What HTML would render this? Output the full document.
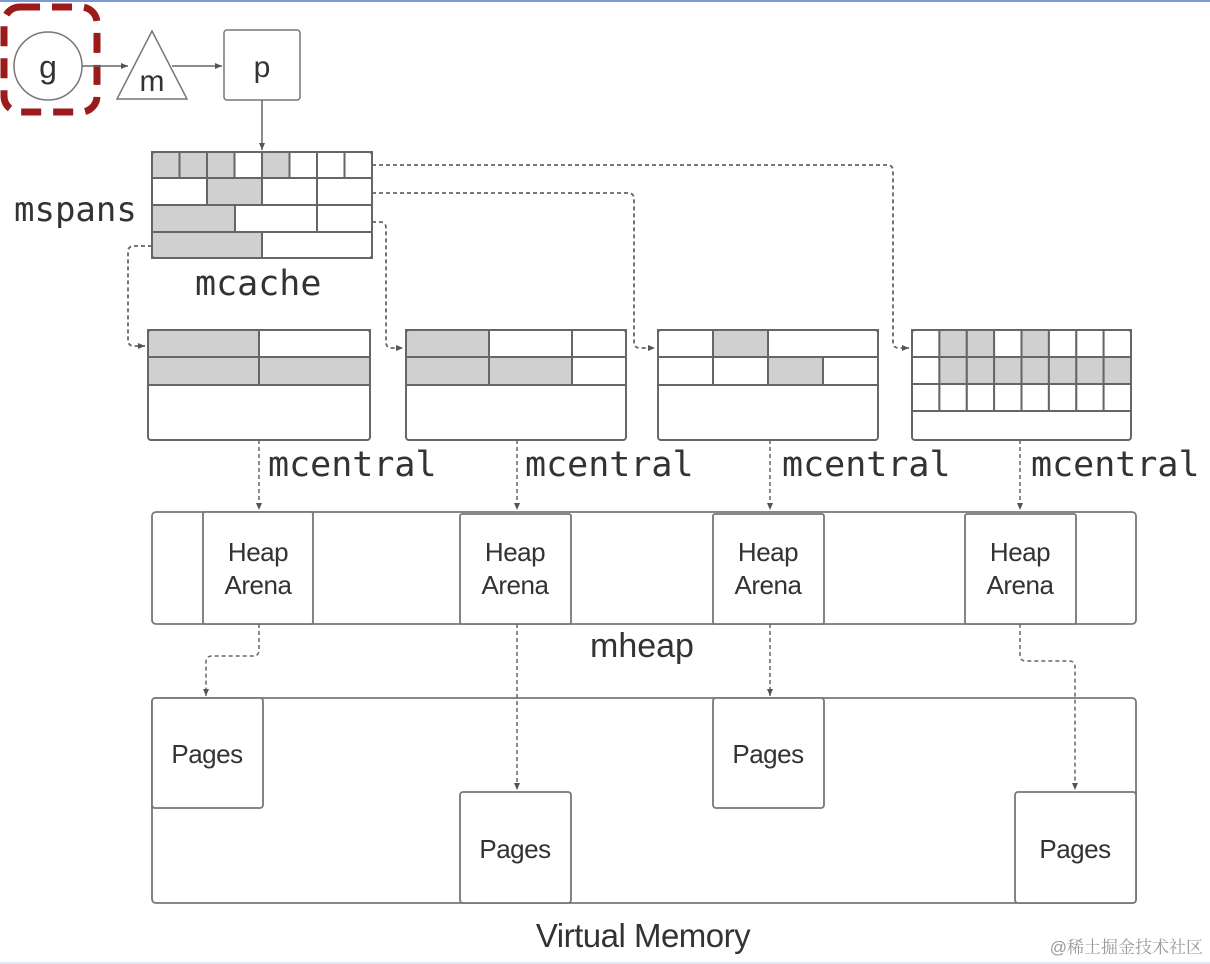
<!DOCTYPE html>
<html><head><meta charset="utf-8"><style>
html,body{margin:0;padding:0;background:#fff;}
svg{display:block;}
.mono{font-family:"DejaVu Sans Mono","Liberation Mono",monospace;fill:#333;}
.sans{font-family:"Liberation Sans",sans-serif;fill:#333;}
</style></head><body>
<svg width="1210" height="964" viewBox="0 0 1210 964" xmlns="http://www.w3.org/2000/svg">
<defs>
<marker id="ah" markerWidth="8" markerHeight="8" refX="7" refY="4" orient="auto" markerUnits="userSpaceOnUse"><path d="M0,1 L7,4 L0,7 z" fill="#555"/></marker>
</defs>
<rect x="0" y="0" width="1210" height="2" fill="#7b9ad6"/>
<rect x="0" y="962" width="1210" height="2" fill="#e6ebf3"/>

<!-- g m p -->
<rect x="4" y="7" width="93" height="105" rx="16" fill="none" stroke="#9b1b1b" stroke-width="7" stroke-dasharray="20,12"/>
<circle cx="48" cy="66" r="34" fill="#fff" stroke="#777" stroke-width="1.5"/>
<text x="48" y="78" class="sans" font-size="32" text-anchor="middle">g</text>
<line x1="82" y1="66" x2="128" y2="66" stroke="#666" stroke-width="1.5" marker-end="url(#ah)"/>
<polygon points="117,99 152,31 187,99" fill="#fff" stroke="#777" stroke-width="1.5"/>
<text x="152" y="91" class="sans" font-size="30" text-anchor="middle">m</text>
<line x1="172" y1="66" x2="222" y2="66" stroke="#666" stroke-width="1.5" marker-end="url(#ah)"/>
<rect x="224" y="30" width="76" height="70" rx="3" fill="#fff" stroke="#777" stroke-width="1.5"/>
<text x="262" y="77" class="sans" font-size="30" text-anchor="middle">p</text>
<line x1="262" y1="100" x2="262" y2="150" stroke="#666" stroke-width="1.5" marker-end="url(#ah)"/>

<!-- mcache -->
<g stroke="#666" stroke-width="2">
<rect x="152" y="152" width="27.5" height="26" fill="#d0d0d0"/>
<rect x="179.5" y="152" width="27.5" height="26" fill="#d0d0d0"/>
<rect x="207" y="152" width="27.5" height="26" fill="#d0d0d0"/>
<rect x="234.5" y="152" width="27.5" height="26" fill="#fff"/>
<rect x="262" y="152" width="27.5" height="26" fill="#d0d0d0"/>
<rect x="289.5" y="152" width="27.5" height="26" fill="#fff"/>
<rect x="317" y="152" width="27.5" height="26" fill="#fff"/>
<rect x="344.5" y="152" width="27.5" height="26" fill="#fff"/>
<rect x="152" y="178" width="55" height="27" fill="#fff"/>
<rect x="207" y="178" width="55" height="27" fill="#d0d0d0"/>
<rect x="262" y="178" width="55" height="27" fill="#fff"/>
<rect x="317" y="178" width="55" height="27" fill="#fff"/>
<rect x="152" y="205" width="83" height="27" fill="#d0d0d0"/>
<rect x="235" y="205" width="82" height="27" fill="#fff"/>
<rect x="317" y="205" width="55" height="27" fill="#fff"/>
<rect x="152" y="232" width="110" height="26" fill="#d0d0d0"/>
<rect x="262" y="232" width="110" height="26" fill="#fff"/>
</g>
<rect x="152" y="152" width="220" height="106" rx="3" fill="none" stroke="#666" stroke-width="2"/>
<text x="14" y="221" class="mono" font-size="34">mspans</text>
<text x="195" y="295" class="mono" font-size="35">mcache</text>

<!-- dashed connectors from mcache -->
<g fill="none" stroke="#666" stroke-width="1.8" stroke-dasharray="4,3">
<path d="M372,165 H887 Q893,165 893,171 V342 Q893,348 899,348 H909" marker-end="url(#ah)"/>
<path d="M372,193 H628 Q634,193 634,199 V342 Q634,348 640,348 H655" marker-end="url(#ah)"/>
<path d="M372,222 H380 Q386,222 386,228 V342 Q386,348 392,348 H403" marker-end="url(#ah)"/>
<path d="M152,246 H134 Q128,246 128,252 V340 Q128,346 134,346 H145" marker-end="url(#ah)"/>
</g>

<!-- mcentral 1 -->
<g stroke="#666" stroke-width="2">
<rect x="148" y="330" width="111" height="27" fill="#d0d0d0"/>
<rect x="259" y="330" width="111" height="27" fill="#fff"/>
<rect x="148" y="357" width="111" height="28" fill="#d0d0d0"/>
<rect x="259" y="357" width="111" height="28" fill="#d0d0d0"/>
</g>
<rect x="148" y="330" width="222" height="110" rx="3" fill="none" stroke="#666" stroke-width="2"/>
<!-- mcentral 2 -->
<g stroke="#666" stroke-width="2">
<rect x="406" y="330" width="83" height="27" fill="#d0d0d0"/>
<rect x="489" y="330" width="83" height="27" fill="#fff"/>
<rect x="572" y="330" width="54" height="27" fill="#fff"/>
<rect x="406" y="357" width="83" height="28" fill="#d0d0d0"/>
<rect x="489" y="357" width="83" height="28" fill="#d0d0d0"/>
<rect x="572" y="357" width="54" height="28" fill="#fff"/>
</g>
<rect x="406" y="330" width="220" height="110" rx="3" fill="none" stroke="#666" stroke-width="2"/>
<!-- mcentral 3 -->
<g stroke="#666" stroke-width="2">
<rect x="658" y="330" width="55" height="27" fill="#fff"/>
<rect x="713" y="330" width="55" height="27" fill="#d0d0d0"/>
<rect x="768" y="330" width="110" height="27" fill="#fff"/>
<rect x="658" y="357" width="55" height="28" fill="#fff"/>
<rect x="713" y="357" width="55" height="28" fill="#fff"/>
<rect x="768" y="357" width="55" height="28" fill="#d0d0d0"/>
<rect x="823" y="357" width="55" height="28" fill="#fff"/>
</g>
<rect x="658" y="330" width="220" height="110" rx="3" fill="none" stroke="#666" stroke-width="2"/>
<!-- mcentral 4 -->
<g stroke="#666" stroke-width="2">
<rect x="912" y="330" width="27.4" height="27" fill="#fff"/>
<rect x="939.4" y="330" width="27.4" height="27" fill="#d0d0d0"/>
<rect x="966.8" y="330" width="27.4" height="27" fill="#d0d0d0"/>
<rect x="994.1" y="330" width="27.4" height="27" fill="#fff"/>
<rect x="1021.5" y="330" width="27.4" height="27" fill="#d0d0d0"/>
<rect x="1048.9" y="330" width="27.4" height="27" fill="#fff"/>
<rect x="1076.3" y="330" width="27.4" height="27" fill="#fff"/>
<rect x="1103.6" y="330" width="27.4" height="27" fill="#fff"/>
<rect x="912" y="357" width="27.4" height="27" fill="#fff"/>
<rect x="939.4" y="357" width="27.4" height="27" fill="#d0d0d0"/>
<rect x="966.8" y="357" width="27.4" height="27" fill="#d0d0d0"/>
<rect x="994.1" y="357" width="27.4" height="27" fill="#d0d0d0"/>
<rect x="1021.5" y="357" width="27.4" height="27" fill="#d0d0d0"/>
<rect x="1048.9" y="357" width="27.4" height="27" fill="#d0d0d0"/>
<rect x="1076.3" y="357" width="27.4" height="27" fill="#d0d0d0"/>
<rect x="1103.6" y="357" width="27.4" height="27" fill="#d0d0d0"/>
<rect x="912" y="384" width="27.4" height="27" fill="#fff"/>
<rect x="939.4" y="384" width="27.4" height="27" fill="#fff"/>
<rect x="966.8" y="384" width="27.4" height="27" fill="#fff"/>
<rect x="994.1" y="384" width="27.4" height="27" fill="#fff"/>
<rect x="1021.5" y="384" width="27.4" height="27" fill="#fff"/>
<rect x="1048.9" y="384" width="27.4" height="27" fill="#fff"/>
<rect x="1076.3" y="384" width="27.4" height="27" fill="#fff"/>
<rect x="1103.6" y="384" width="27.4" height="27" fill="#fff"/>
</g>
<rect x="912" y="330" width="219" height="110" rx="3" fill="none" stroke="#666" stroke-width="2"/>

<text x="268" y="476" class="mono" font-size="35">mcentral</text>
<text x="525" y="476" class="mono" font-size="35">mcentral</text>
<text x="782" y="476" class="mono" font-size="35">mcentral</text>
<text x="1031" y="476" class="mono" font-size="35">mcentral</text>

<g fill="none" stroke="#666" stroke-width="1.5" stroke-dasharray="4,3">
<line x1="259" y1="440" x2="259" y2="510" marker-end="url(#ah)"/>
<line x1="517" y1="440" x2="517" y2="510" marker-end="url(#ah)"/>
<line x1="770" y1="440" x2="770" y2="510" marker-end="url(#ah)"/>
<line x1="1020" y1="440" x2="1020" y2="510" marker-end="url(#ah)"/>
</g>

<!-- mheap -->
<rect x="152" y="512" width="984" height="112" rx="4" fill="#fff" stroke="#777" stroke-width="1.8"/>
<g fill="#fff" stroke="#777" stroke-width="1.8">
<rect x="203" y="512" width="110" height="112" rx="2"/>
<rect x="460" y="514" width="111" height="110" rx="2"/>
<rect x="713" y="514" width="111" height="110" rx="2"/>
<rect x="965" y="514" width="111" height="110" rx="2"/>
</g>
<g class="sans" font-size="26" text-anchor="middle" letter-spacing="-0.5">
<text x="258" y="561">Heap</text><text x="258" y="594">Arena</text>
<text x="515" y="561">Heap</text><text x="515" y="594">Arena</text>
<text x="768" y="561">Heap</text><text x="768" y="594">Arena</text>
<text x="1020" y="561">Heap</text><text x="1020" y="594">Arena</text>
</g>
<text x="590" y="657" class="sans" font-size="34">mheap</text>

<!-- Virtual memory -->
<rect x="152" y="698" width="984" height="205" rx="4" fill="#fff" stroke="#777" stroke-width="1.8"/>
<g fill="#fff" stroke="#777" stroke-width="1.8">
<rect x="152" y="698" width="111" height="110" rx="3"/>
<rect x="460" y="792" width="111" height="111" rx="3"/>
<rect x="713" y="698" width="111" height="110" rx="3"/>
<rect x="1015" y="792" width="121" height="111" rx="3"/>
</g>
<g class="sans" font-size="26" text-anchor="middle" letter-spacing="-0.5">
<text x="207" y="763">Pages</text>
<text x="515" y="858">Pages</text>
<text x="768" y="763">Pages</text>
<text x="1075" y="858">Pages</text>
</g>
<g fill="none" stroke="#666" stroke-width="1.5" stroke-dasharray="4,3">
<path d="M259,624 V650 Q259,656 253,656 H212 Q206,656 206,662 V696" marker-end="url(#ah)"/>
<line x1="517" y1="624" x2="517" y2="790" marker-end="url(#ah)"/>
<line x1="770" y1="624" x2="770" y2="696" marker-end="url(#ah)"/>
<path d="M1020,624 V655 Q1020,661 1026,661 H1069 Q1075,661 1075,667 V790" marker-end="url(#ah)"/>
</g>
<text x="643" y="947" class="sans" font-size="33" text-anchor="middle" letter-spacing="-0.5">Virtual Memory</text>
<text x="1203" y="953" font-family="'Liberation Sans','Noto Serif CJK SC','Noto Sans CJK SC',sans-serif" font-size="17" fill="#999" text-anchor="end">@稀土掘金技术社区</text>
</svg>
</body></html>
